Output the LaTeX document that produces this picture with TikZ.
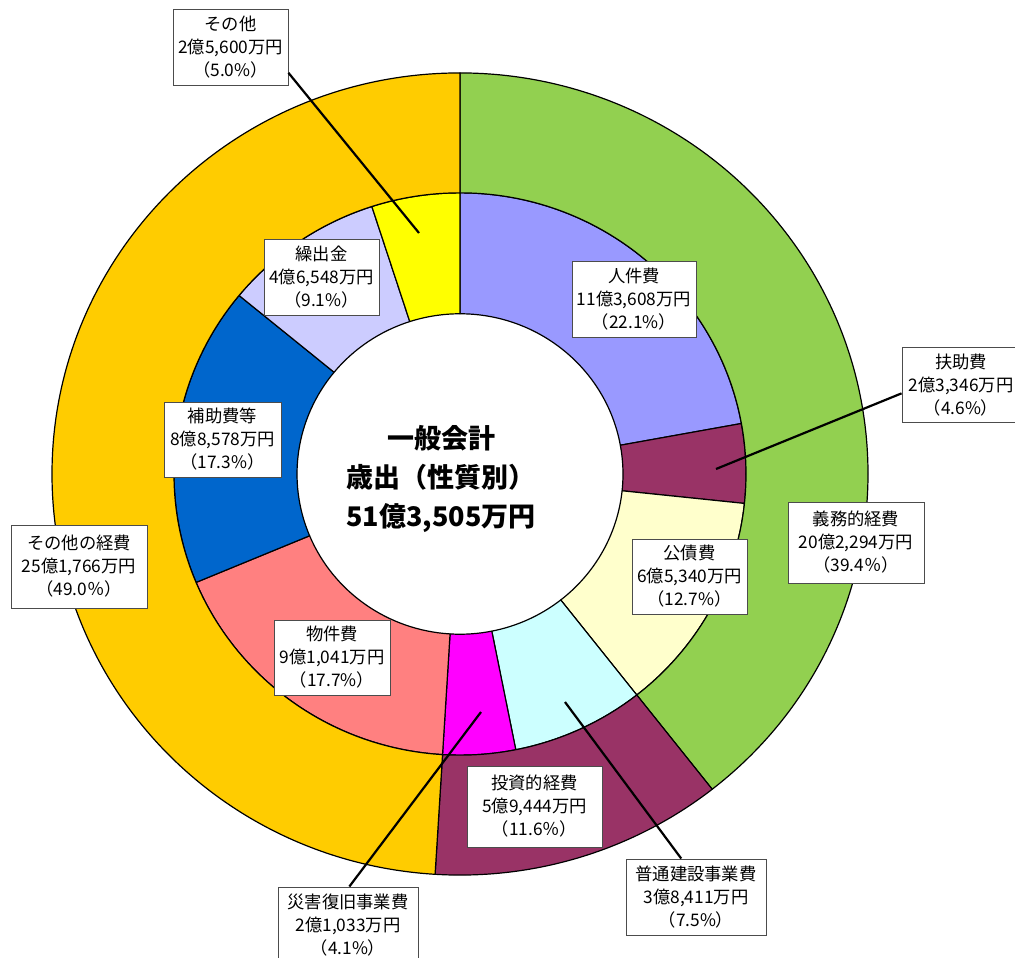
\documentclass[tikz,border=0pt]{standalone}
\usepackage{fontspec}
\setmainfont{Noto Sans CJK JP}
\definecolor{cJinken}{HTML}{9999FF}
\definecolor{cFujo}{HTML}{993366}
\definecolor{cKousai}{HTML}{FFFFCC}
\definecolor{cFutsu}{HTML}{CCFFFF}
\definecolor{cSaigai}{HTML}{FF00FF}
\definecolor{cBukken}{HTML}{FF8080}
\definecolor{cHojo}{HTML}{0066CC}
\definecolor{cKuri}{HTML}{CCCCFF}
\definecolor{cSonota}{HTML}{FFFF00}
\definecolor{cGimu}{HTML}{92D050}
\definecolor{cToushi}{HTML}{993366}
\definecolor{cOther}{HTML}{FFCC00}
\newcommand\mysector[5]{%
  \filldraw[seg, fill=#5] (#3:#1) arc[start angle=#3, end angle=#4, radius=#1]
    -- (#4:#2) arc[start angle=#4, end angle=#3, radius=#2] -- cycle;}
\begin{document}
\begin{tikzpicture}[x=1pt,y=-1pt,
  seg/.style={draw=black, line width=1.2pt, line join=round},
  lbl/.style={draw=black!70, fill=white, line width=0.9pt, align=center,
    inner sep=0pt, font=\fontsize{17.3}{23}\selectfont},
  leader/.style={line width=2.2pt, black},
  title/.style={align=center, font=\fontsize{27}{39}\selectfont\bfseries}]
\fill[white] (0,0) rectangle (1015,958);
\useasboundingbox (0,0) rectangle (1015,958);
% ---- pie rings ----
\begin{scope}[shift={(460pt,-474pt)}, x=1pt, y=0.983pt]
  % inner ring
  \mysector{163}{286}{90}{10.35}{cJinken}
  \mysector{163}{286}{10.35}{-6.01}{cFujo}
  \mysector{163}{286}{-6.01}{-51.82}{cKousai}
  \mysector{163}{286}{-51.82}{-78.75}{cFutsu}
  \mysector{163}{286}{-78.75}{-93.50}{cSaigai}
  \mysector{163}{286}{-93.50}{-157.32}{cBukken}
  \mysector{163}{286}{-157.32}{-219.42}{cHojo}
  \mysector{163}{286}{-219.42}{-252.05}{cKuri}
  \mysector{163}{286}{-252.05}{-270}{cSonota}
  % outer ring
  \mysector{286}{408}{90}{-51.82}{cGimu}
  \mysector{286}{408}{-51.82}{-93.50}{cToushi}
  \mysector{286}{408}{-93.50}{-270}{cOther}
\end{scope}
% ---- centre title ----
\node[title] (center) at (441,479) {一般会計\\歳出（性質別）\\51億3,505万円};
% ---- labels ----
\node[lbl, minimum width=115pt, minimum height=76pt] (sonota) at (230.5,47) {その他\\2億5,600万円\\（5.0\%）};
\node[lbl, minimum width=115pt, minimum height=76pt] (kuri) at (321.5,277) {繰出金\\4億6,548万円\\（9.1\%）};
\node[lbl, minimum width=117pt, minimum height=75pt] (hojo) at (222.5,439.5) {補助費等\\8億8,578万円\\（17.3\%）};
\node[lbl, minimum width=124pt, minimum height=76pt] (jinken) at (634,299) {人件費\\11億3,608万円\\（22.1\%）};
\node[lbl, minimum width=118pt, minimum height=75pt] (fujo) at (961,385) {扶助費\\2億3,346万円\\（4.6\%）};
\node[lbl, minimum width=136pt, minimum height=83pt] (other) at (79,566.5) {その他の経費\\25億1,766万円\\（49.0％）};
\node[lbl, minimum width=116pt, minimum height=75pt] (bukken) at (332,657.5) {物件費\\9億1,041万円\\（17.7\%）};
\node[lbl, minimum width=140pt, minimum height=76pt] (saigai) at (348,925) {災害復旧事業費\\2億1,033万円\\（4.1\%）};
\node[lbl, minimum width=135pt, minimum height=81pt] (toushi) at (534.5,806.5) {投資的経費\\5億9,444万円\\（11.6％）};
\node[lbl, minimum width=115pt, minimum height=75pt] (kousai) at (689.5,576.5) {公債費\\6億5,340万円\\（12.7\%）};
\node[lbl, minimum width=136pt, minimum height=81pt] (gimu) at (856,542.5) {義務的経費\\20億2,294万円\\（39.4％）};
\node[lbl, minimum width=140pt, minimum height=76pt] (futsu) at (696,897) {普通建設事業費\\3億8,411万円\\（7.5\%）};
% ---- leader lines ----
\coordinate (e1) at (419,233);
\coordinate (e2) at (716,469);
\coordinate (e3) at (481,712);
\coordinate (e4) at (565,702);
\draw[leader] (sonota.-24) -- (e1);
\draw[leader] (fujo.188) -- (e2);
\draw[leader] (saigai.88) -- (e3);
\draw[leader] (futsu.111) -- (e4);
\end{tikzpicture}
\end{document}
